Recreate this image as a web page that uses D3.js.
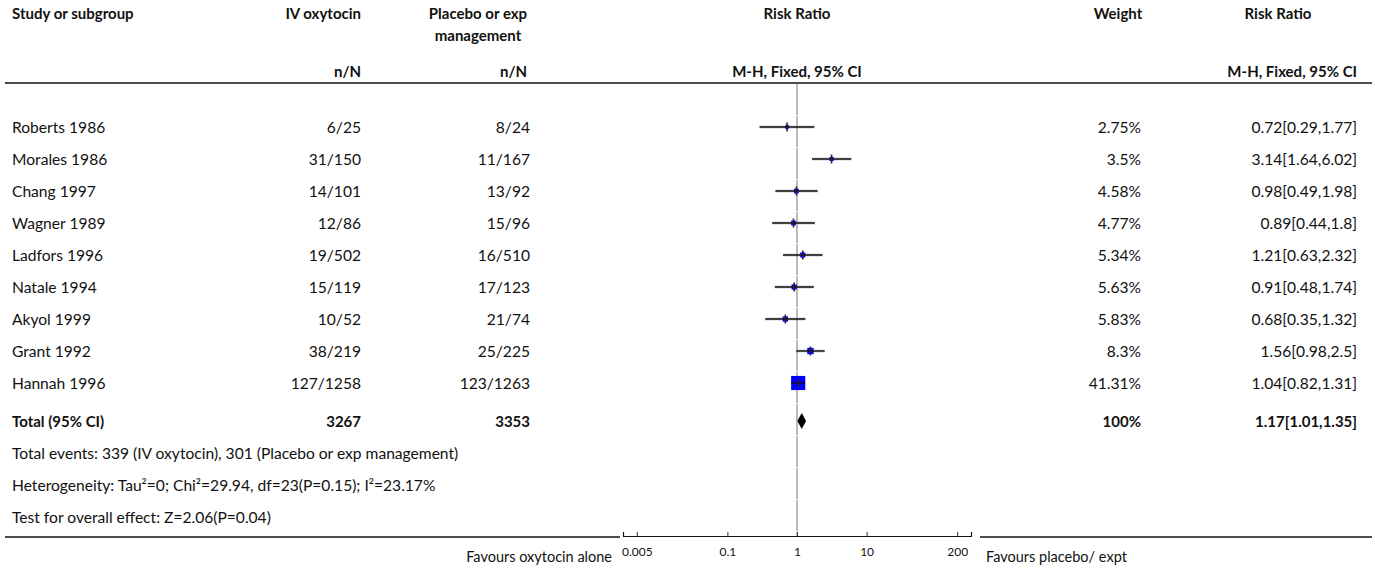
<!DOCTYPE html>
<html>
<head>
<meta charset="utf-8">
<script src="https://cdn.jsdelivr.net/npm/d3@7"></script>
<style>
  html, body { margin: 0; padding: 0; background: #fff; }
  svg { display: block; }
  text { font-family: Lato, "Noto Sans", sans-serif; fill: #111; }
</style>
</head>
<body>
<svg id="chart" width="1375" height="570"></svg>
<script>
// Study-level data (risk ratio, Mantel-Haenszel fixed effect)
const studies   = ["Roberts 1986", "Morales 1986", "Chang 1997", "Wagner 1989", "Ladfors 1996",
                   "Natale 1994", "Akyol 1999", "Grant 1992", "Hannah 1996"];
const ivEvents  = [6, 31, 14, 12, 19, 15, 10, 38, 127];
const ivTotal   = [25, 150, 101, 86, 502, 119, 52, 219, 1258];
const plEvents  = [8, 11, 13, 15, 16, 17, 21, 25, 123];
const plTotal   = [24, 167, 92, 96, 510, 123, 74, 225, 1263];
const weights   = [2.75, 3.5, 4.58, 4.77, 5.34, 5.63, 5.83, 8.3, 41.31];
const rr        = [0.72, 3.14, 0.98, 0.89, 1.21, 0.91, 0.68, 1.56, 1.04];
const rrLow     = [0.29, 1.64, 0.49, 0.44, 0.63, 0.48, 0.35, 0.98, 0.82];
const rrHigh    = [1.77, 6.02, 1.98, 1.8, 2.32, 1.74, 1.32, 2.5, 1.31];

// Pooled estimate
const totalIv = 3267, totalPl = 3353, totalWeight = 100;
const pooled = { rr: 1.17, lo: 1.01, hi: 1.35 };

const footnotes = [
  "Total events: 339 (IV oxytocin), 301 (Placebo or exp management)",
  "Heterogeneity: Tau\u00B2=0; Chi\u00B2=29.94, df=23(P=0.15); I\u00B2=23.17%",
  "Test for overall effect: Z=2.06(P=0.04)"
];

const axisTicks = [0.005, 0.1, 1, 10, 200];

const svg = d3.select("#chart");

// Layout
const headerLineY = 83, bottomLineY = 537;
const rowH = 32, firstRowY = 127;
const totalY = 421;
const colStudy = 12, colIv = 361, colPl = 530, colWeight = 1141, colRR = 1357;
const plotCenter = 797;
const bodySize = 15.6, headSize = 15;

// Log scale for the forest plot
const x = d3.scaleLog().domain([Math.pow(10, -2.5), Math.pow(10, 2.5)]).range([623, 971]);
const yRow = d3.scaleLinear().domain([0, 1]).range([firstRowY, firstRowY + rowH]);

// Header
const head = svg.append("g").attr("font-weight", "bold").attr("font-size", headSize);
function htext(tx, ty, s, anchor) {
  head.append("text").attr("x", tx).attr("y", ty).attr("text-anchor", anchor)
      .attr("dominant-baseline", "central").text(s);
}
htext(colStudy, 13, "Study or subgroup", "start");
htext(colIv, 13, "IV oxytocin", "end");
htext(478, 13, "Placebo or exp", "middle");
htext(478, 35, "management", "middle");
htext(plotCenter, 13, "Risk Ratio", "middle");
htext(1118, 13, "Weight", "middle");
htext(1278, 13, "Risk Ratio", "middle");
htext(colIv, 71, "n/N", "end");
htext(527, 71, "n/N", "end");
htext(plotCenter, 71, "M-H, Fixed, 95% CI", "middle");
htext(colRR, 71, "M-H, Fixed, 95% CI", "end");

// Header rule
svg.append("line").attr("x1", 5).attr("x2", 1372).attr("y1", headerLineY).attr("y2", headerLineY)
   .attr("stroke", "#111").attr("stroke-width", 1.5);

// Line of no effect, drawn per row band
const bandEdges = d3.range(headerLineY, bottomLineY, rowH);
svg.append("g").selectAll("line").data(bandEdges).join("line")
   .attr("x1", x(1)).attr("x2", x(1))
   .attr("y1", d => d + 1).attr("y2", d => Math.min(d + rowH, bottomLineY))
   .attr("stroke", "#aaa").attr("stroke-width", 1.6);

// Study rows
const rows = svg.append("g").attr("font-size", bodySize);
studies.forEach((s, i) => {
  const yy = yRow(i);
  const t = (tx, str, anchor) => rows.append("text").attr("x", tx).attr("y", yy)
      .attr("text-anchor", anchor).attr("dominant-baseline", "central").text(str);
  t(colStudy, s, "start");
  t(colIv, ivEvents[i] + "/" + ivTotal[i], "end");
  t(colPl, plEvents[i] + "/" + plTotal[i], "end");
  t(colWeight, weights[i] + "%", "end");
  t(colRR, rr[i] + "[" + rrLow[i] + "," + rrHigh[i] + "]", "end");
});

// Forest marks
const marks = svg.append("g");
studies.forEach((s, i) => {
  const yy = yRow(i);
  const side = 2.2 * Math.sqrt(weights[i]);
  marks.append("line").attr("x1", x(rrLow[i])).attr("x2", x(rrHigh[i]))
       .attr("y1", yy).attr("y2", yy).attr("stroke", "#999").attr("stroke-width", 3).attr("opacity", 0.5);
  marks.append("rect").attr("x", x(rr[i]) - side / 2).attr("y", yy - side / 2)
       .attr("width", side).attr("height", side).attr("fill", "#0000ff");
  marks.append("line").attr("x1", x(rrLow[i])).attr("x2", x(rrHigh[i]))
       .attr("y1", yy).attr("y2", yy).attr("stroke", "#111").attr("stroke-width", 1.4);
  marks.append("line").attr("x1", x(rr[i])).attr("x2", x(rr[i]))
       .attr("y1", yy - 4.5).attr("y2", yy + 4.5).attr("stroke", "#222").attr("stroke-width", 1.6);
});

// Pooled diamond
const dh = 8;
marks.append("path")
  .attr("d", `M${x(pooled.lo)},${totalY} L${x(pooled.rr)},${totalY - dh} L${x(pooled.hi)},${totalY} L${x(pooled.rr)},${totalY + dh} Z`)
  .attr("fill", "#000");

// Total row
const tot = svg.append("g").attr("font-size", headSize).attr("font-weight", "bold");
[[colStudy, "Total (95% CI)", "start"], [colIv, totalIv, "end"], [colPl, totalPl, "end"],
 [colWeight, totalWeight + "%", "end"],
 [colRR, pooled.rr + "[" + pooled.lo + "," + pooled.hi + "]", "end"]].forEach(([tx, str, a]) => {
  tot.append("text").attr("x", tx).attr("y", totalY).attr("text-anchor", a)
     .attr("dominant-baseline", "central").text(str);
});

// Footnotes
svg.append("g").attr("font-size", bodySize).selectAll("text").data(footnotes).join("text")
   .attr("x", colStudy).attr("y", (d, i) => totalY + rowH * (i + 1))
   .attr("dominant-baseline", "central").text(d => d);

// Bottom rules and axis
svg.append("line").attr("x1", 5).attr("x2", 620).attr("y1", bottomLineY).attr("y2", bottomLineY)
   .attr("stroke", "#111").attr("stroke-width", 1.4);
svg.append("line").attr("x1", 980).attr("x2", 1372).attr("y1", bottomLineY).attr("y2", bottomLineY)
   .attr("stroke", "#111").attr("stroke-width", 1.4);

const axis = d3.axisTop(x).tickValues(axisTicks).tickSize(4).tickFormat(d => String(d));
const ax = svg.append("g").attr("transform", `translate(0,${bottomLineY - 1})`).call(axis);
ax.select(".domain").attr("stroke", "#111").attr("stroke-width", 1.2);
ax.selectAll(".tick line").attr("stroke", "#333");
ax.selectAll(".tick text").attr("y", 16).attr("dy", "0.32em")
  .attr("font-family", "Lato, 'Noto Sans', sans-serif").attr("font-size", 12).attr("fill", "#111");

svg.append("text").attr("x", 612).attr("y", 556).attr("text-anchor", "end")
   .attr("dominant-baseline", "central").attr("font-size", 14.5).text("Favours oxytocin alone");
svg.append("text").attr("x", 986).attr("y", 556).attr("text-anchor", "start")
   .attr("dominant-baseline", "central").attr("font-size", 14.5).text("Favours placebo/ expt");
</script>
</body>
</html>
